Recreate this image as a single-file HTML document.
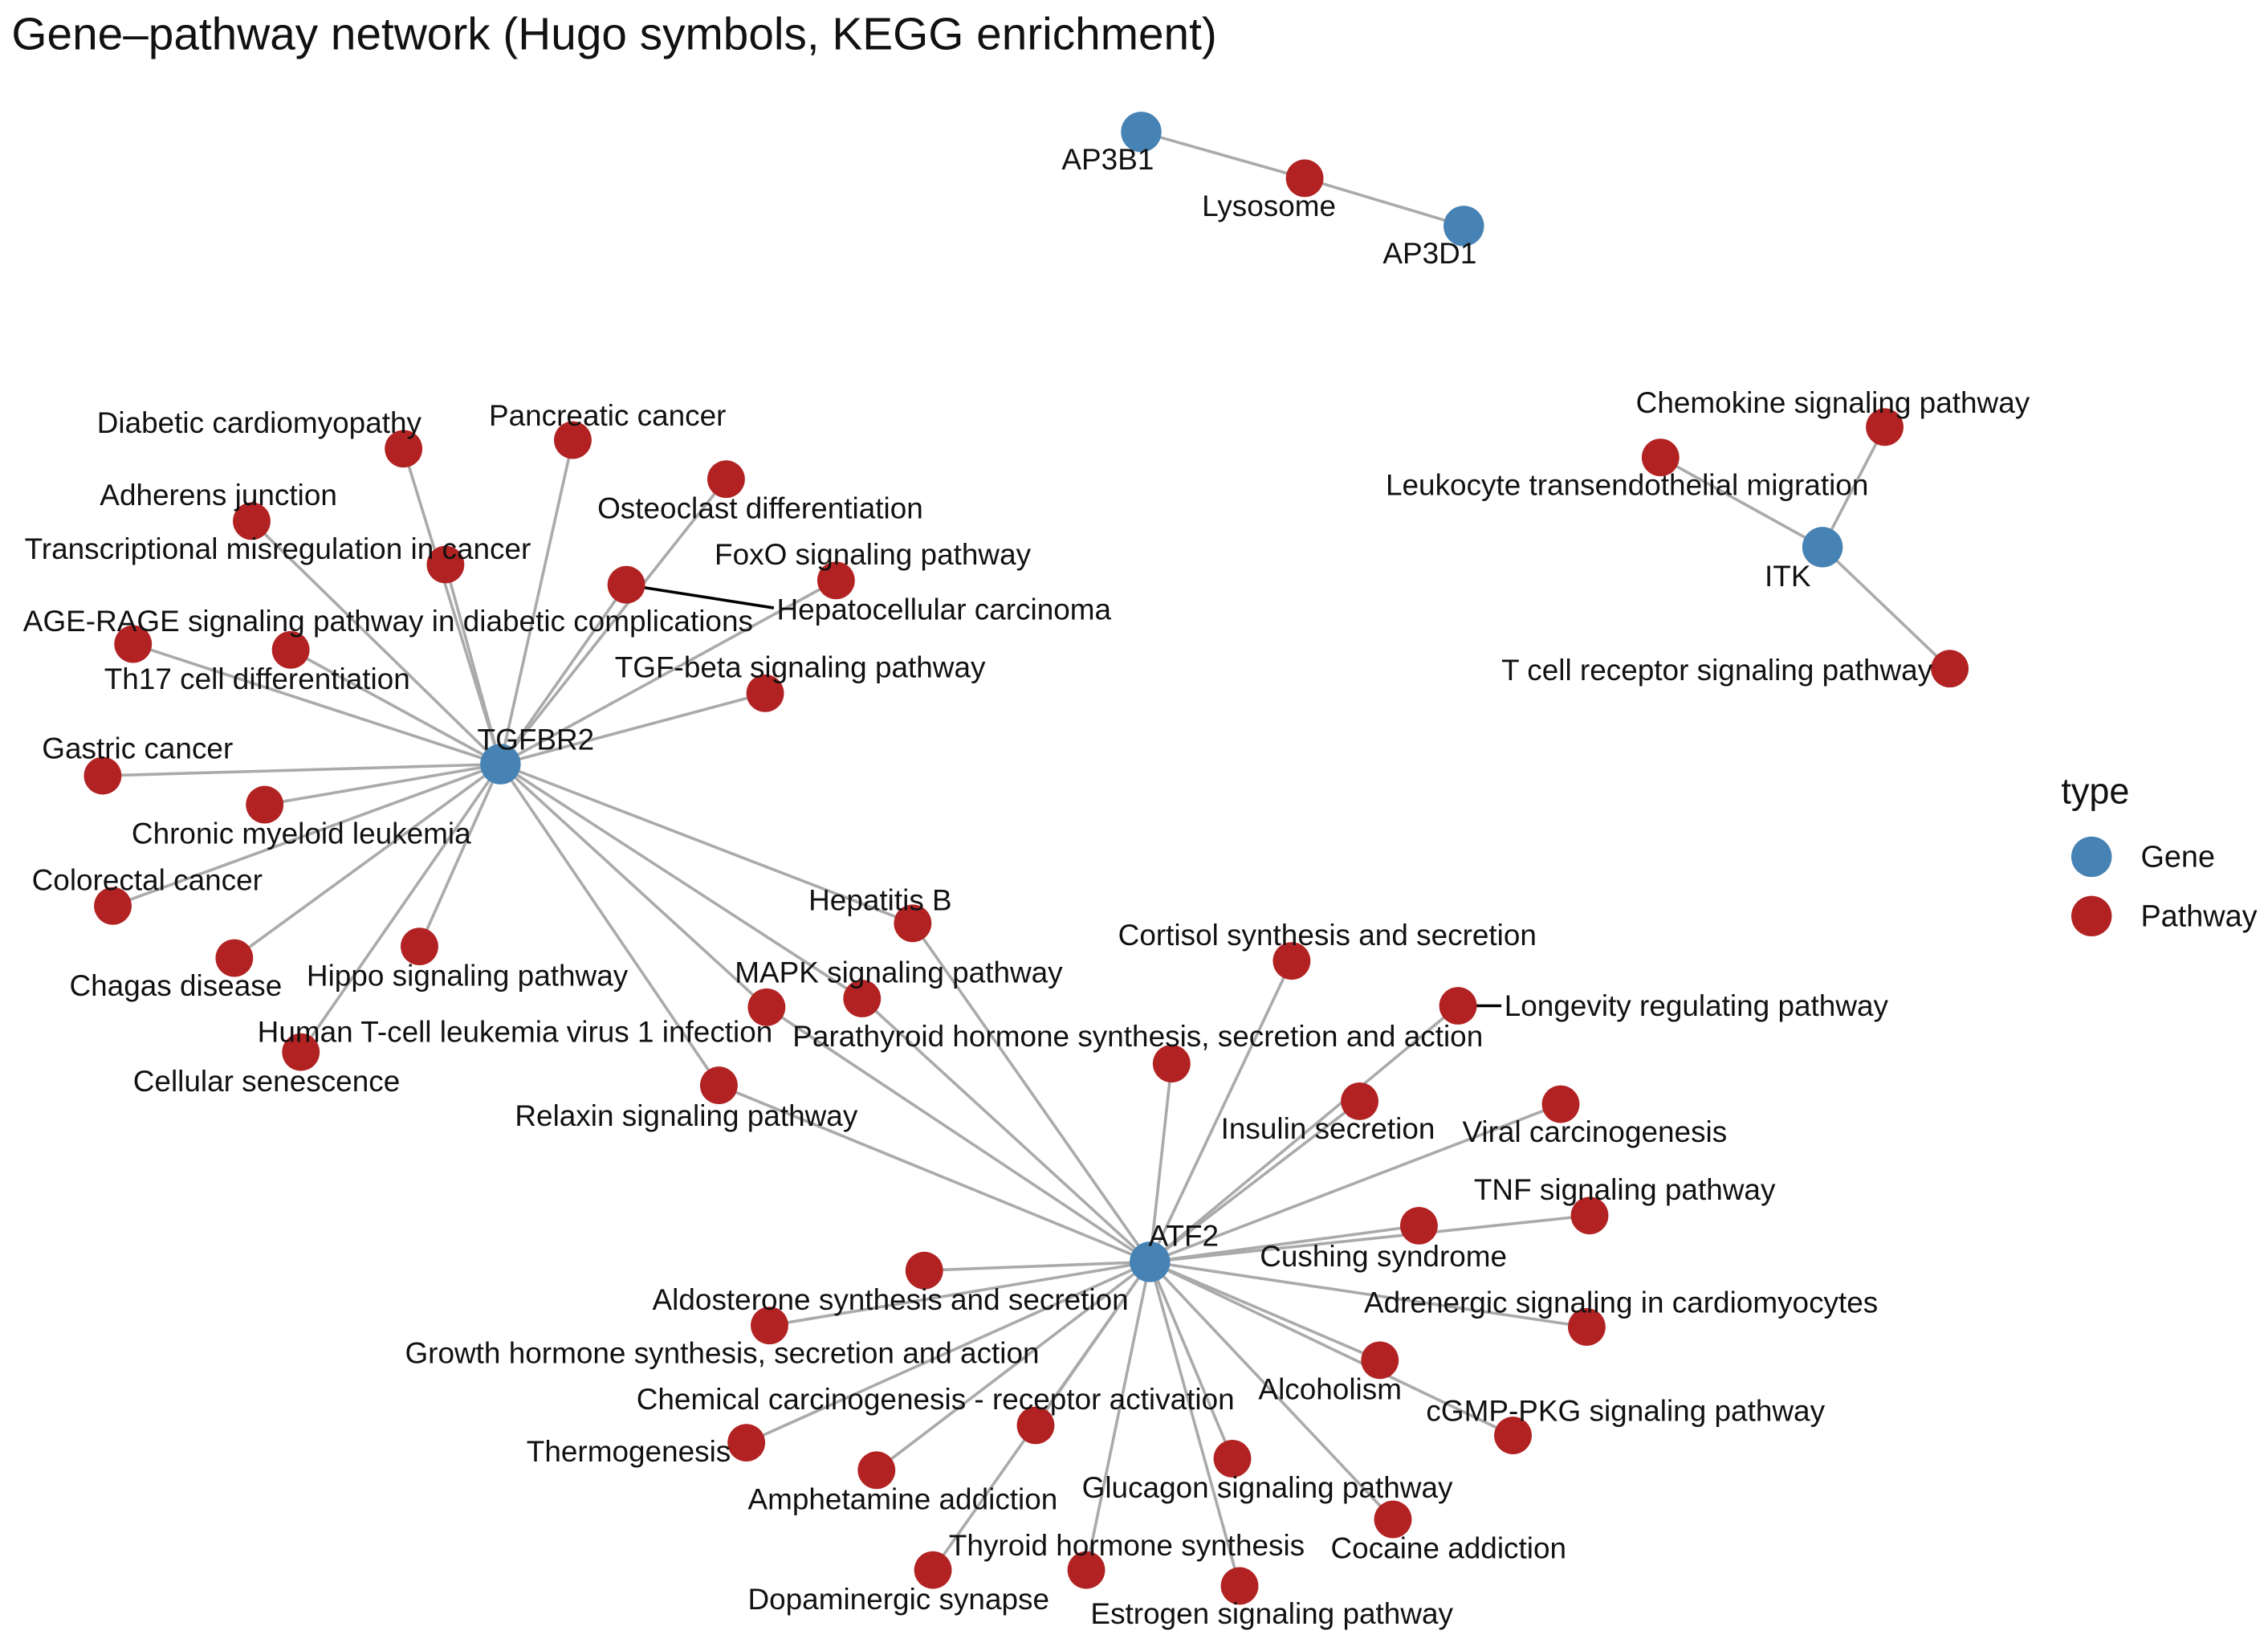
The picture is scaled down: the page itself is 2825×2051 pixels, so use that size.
<!DOCTYPE html>
<html><head><meta charset="utf-8"><style>
html,body{margin:0;padding:0;background:#fff;}
svg{display:block}
text{font-family:"Liberation Sans",Arial,sans-serif;font-size:20.5px;fill:#111;}
</style></head><body>
<svg width="2825" height="2051" viewBox="0 0 1568 1138" xmlns="http://www.w3.org/2000/svg">
<rect width="1568" height="1138" fill="#fff"/>
<text x="8" y="34" style="font-size:31.5px">Gene–pathway network (Hugo symbols, KEGG enrichment)</text>
<g stroke="#aaaaaa" stroke-width="2" fill="none">
<line x1="789" y1="91" x2="902" y2="123"/><line x1="902" y1="123" x2="1012" y2="156"/>
<line x1="1260" y1="378" x2="1303" y2="295"/><line x1="1260" y1="378" x2="1148" y2="316"/><line x1="1260" y1="378" x2="1348" y2="462"/>
<g>
<line x1="346" y1="528" x2="279" y2="310"/><line x1="346" y1="528" x2="396" y2="304"/><line x1="346" y1="528" x2="502" y2="331"/>
<line x1="346" y1="528" x2="174" y2="360"/><line x1="346" y1="528" x2="308" y2="390"/><line x1="346" y1="528" x2="433" y2="404"/>
<line x1="346" y1="528" x2="578" y2="401"/><line x1="346" y1="528" x2="92" y2="445"/><line x1="346" y1="528" x2="201" y2="449"/>
<line x1="346" y1="528" x2="529" y2="479"/><line x1="346" y1="528" x2="71" y2="536"/><line x1="346" y1="528" x2="183" y2="556"/>
<line x1="346" y1="528" x2="78" y2="626"/><line x1="346" y1="528" x2="162" y2="662"/><line x1="346" y1="528" x2="290" y2="654"/>
<line x1="346" y1="528" x2="208" y2="727"/><line x1="346" y1="528" x2="631" y2="638"/><line x1="346" y1="528" x2="596" y2="690"/>
<line x1="346" y1="528" x2="530" y2="696"/><line x1="346" y1="528" x2="497" y2="750"/>
</g>
<g>
<line x1="795" y1="872" x2="631" y2="638"/><line x1="795" y1="872" x2="596" y2="690"/><line x1="795" y1="872" x2="530" y2="696"/>
<line x1="795" y1="872" x2="497" y2="750"/><line x1="795" y1="872" x2="893" y2="664"/><line x1="795" y1="872" x2="1008" y2="695"/>
<line x1="795" y1="872" x2="810" y2="735"/><line x1="795" y1="872" x2="940" y2="761"/><line x1="795" y1="872" x2="1079" y2="763"/>
<line x1="795" y1="872" x2="1099" y2="840"/><line x1="795" y1="872" x2="981" y2="847"/><line x1="795" y1="872" x2="1097" y2="917"/>
<line x1="795" y1="872" x2="954" y2="940"/><line x1="795" y1="872" x2="1046" y2="992"/><line x1="795" y1="872" x2="963" y2="1050"/>
<line x1="795" y1="872" x2="852" y2="1008"/><line x1="795" y1="872" x2="857" y2="1096"/><line x1="795" y1="872" x2="751" y2="1085"/>
<line x1="795" y1="872" x2="645" y2="1085"/><line x1="795" y1="872" x2="716" y2="985"/><line x1="795" y1="872" x2="606" y2="1016"/>
<line x1="795" y1="872" x2="516" y2="997"/><line x1="795" y1="872" x2="532" y2="916"/><line x1="795" y1="872" x2="639" y2="878"/>
</g>
</g>
<g stroke="#000" stroke-width="2">
<line x1="433" y1="404" x2="535" y2="420"/><line x1="1008" y1="695" x2="1038" y2="695"/>
</g>
<g fill="#B22222">
<circle cx="902" cy="123" r="13"/><circle cx="1303" cy="295" r="13"/><circle cx="1148" cy="316" r="13"/><circle cx="1348" cy="462" r="13"/>
<circle cx="279" cy="310" r="13"/><circle cx="396" cy="304" r="13"/><circle cx="502" cy="331" r="13"/><circle cx="174" cy="360" r="13"/>
<circle cx="308" cy="390" r="13"/><circle cx="433" cy="404" r="13"/><circle cx="578" cy="401" r="13"/><circle cx="92" cy="445" r="13"/>
<circle cx="201" cy="449" r="13"/><circle cx="529" cy="479" r="13"/><circle cx="71" cy="536" r="13"/><circle cx="183" cy="556" r="13"/>
<circle cx="78" cy="626" r="13"/><circle cx="162" cy="662" r="13"/><circle cx="290" cy="654" r="13"/><circle cx="208" cy="727" r="13"/>
<circle cx="631" cy="638" r="13"/><circle cx="596" cy="690" r="13"/><circle cx="530" cy="696" r="13"/><circle cx="497" cy="750" r="13"/>
<circle cx="893" cy="664" r="13"/><circle cx="1008" cy="695" r="13"/><circle cx="810" cy="735" r="13"/><circle cx="940" cy="761" r="13"/>
<circle cx="1079" cy="763" r="13"/><circle cx="1099" cy="840" r="13"/><circle cx="981" cy="847" r="13"/><circle cx="1097" cy="917" r="13"/>
<circle cx="954" cy="940" r="13"/><circle cx="1046" cy="992" r="13"/><circle cx="963" cy="1050" r="13"/><circle cx="852" cy="1008" r="13"/>
<circle cx="857" cy="1096" r="13"/><circle cx="751" cy="1085" r="13"/><circle cx="645" cy="1085" r="13"/><circle cx="716" cy="985" r="13"/>
<circle cx="606" cy="1016" r="13"/><circle cx="516" cy="997" r="13"/><circle cx="532" cy="916" r="13"/><circle cx="639" cy="878" r="13"/>
</g>
<g fill="#4682B4">
<circle cx="789" cy="91" r="14"/><circle cx="1012" cy="156" r="14"/><circle cx="1260" cy="378" r="14"/>
<circle cx="346" cy="528" r="14"/><circle cx="795" cy="872" r="14"/>
</g>
<g>
<text x="734" y="117">AP3B1</text><text x="831" y="149">Lysosome</text><text x="956" y="182">AP3D1</text>
<text x="1131" y="285">Chemokine signaling pathway</text><text x="958" y="342">Leukocyte transendothelial migration</text>
<text x="1220" y="405">ITK</text><text x="1038" y="470">T cell receptor signaling pathway</text>
<text x="330" y="518">TGFBR2</text><text x="794" y="861">ATF2</text>
<text x="67" y="299">Diabetic cardiomyopathy</text><text x="338" y="294">Pancreatic cancer</text>
<text x="69" y="349">Adherens junction</text><text x="413" y="358">Osteoclast differentiation</text>
<text x="17" y="386">Transcriptional misregulation in cancer</text><text x="494" y="390">FoxO signaling pathway</text>
<text x="537" y="428">Hepatocellular carcinoma</text><text x="16" y="436">AGE-RAGE signaling pathway in diabetic complications</text>
<text x="72" y="476">Th17 cell differentiation</text><text x="425" y="468">TGF-beta signaling pathway</text>
<text x="29" y="524">Gastric cancer</text><text x="91" y="583">Chronic myeloid leukemia</text>
<text x="22" y="615">Colorectal cancer</text><text x="48" y="688">Chagas disease</text>
<text x="212" y="681">Hippo signaling pathway</text><text x="178" y="720">Human T-cell leukemia virus 1 infection</text>
<text x="92" y="754">Cellular senescence</text><text x="559" y="629">Hepatitis B</text>
<text x="508" y="679">MAPK signaling pathway</text><text x="548" y="723">Parathyroid hormone synthesis, secretion and action</text>
<text x="356" y="778">Relaxin signaling pathway</text><text x="773" y="653">Cortisol synthesis and secretion</text>
<text x="1040" y="702">Longevity regulating pathway</text><text x="844" y="787">Insulin secretion</text>
<text x="1011" y="789">Viral carcinogenesis</text><text x="1019" y="829">TNF signaling pathway</text>
<text x="871" y="875">Cushing syndrome</text><text x="943" y="907">Adrenergic signaling in cardiomyocytes</text>
<text x="451" y="905">Aldosterone synthesis and secretion</text><text x="280" y="942">Growth hormone synthesis, secretion and action</text>
<text x="440" y="974">Chemical carcinogenesis - receptor activation</text><text x="870" y="967">Alcoholism</text>
<text x="986" y="982">cGMP-PKG signaling pathway</text><text x="364" y="1010">Thermogenesis</text>
<text x="517" y="1043">Amphetamine addiction</text><text x="748" y="1035">Glucagon signaling pathway</text>
<text x="656" y="1075">Thyroid hormone synthesis</text><text x="920" y="1077">Cocaine addiction</text>
<text x="517" y="1112">Dopaminergic synapse</text><text x="754" y="1122">Estrogen signaling pathway</text>
</g>
<text x="1425" y="555" style="font-size:25px">type</text>
<circle cx="1446" cy="592" r="14" fill="#4682B4"/><text x="1480" y="599" style="font-size:21px">Gene</text>
<circle cx="1446" cy="633" r="14" fill="#B22222"/><text x="1480" y="640" style="font-size:21px">Pathway</text>
</svg>
</body></html>
